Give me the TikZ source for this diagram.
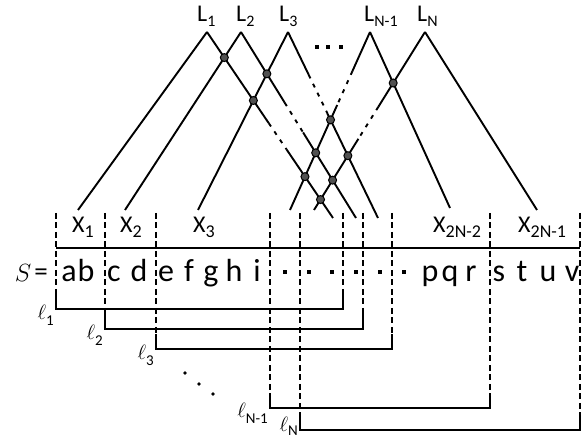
\documentclass[tikz,border=0pt]{standalone}
\usepackage{fontspec}
\setmainfont{Carlito}
\usetikzlibrary{calc}
\definecolor{dotGray}{HTML}{505050}
\newcommand{\lowidx}[3]{\raisebox{-#2pt}{\fontsize{#1}{#1}\selectfont #3}}
\tikzset{
  leg line/.style={draw=black,line width=1.9pt,line join=miter},
  gap line/.style={draw=black,line width=1.9pt,dash pattern=on 4pt off 6pt},
  cross dot/.style={circle,draw=black,fill=dotGray,line width=1pt,
    inner sep=0pt,minimum size=8pt},
  bound line/.style={draw=black,line width=1.9pt,dash pattern=on 6pt off 3.5pt},
  bracket line/.style={draw=black,line width=2.5pt},
  top label/.style={font=\fontsize{24}{26}\selectfont,anchor=base west,inner sep=0pt},
  part label/.style={font=\fontsize{24}{26}\selectfont,anchor=base west,inner sep=0pt},
  len label/.style={font=\fontsize{22}{24}\selectfont,anchor=base east,inner sep=0pt},
  letter node/.style={font=\fontsize{32}{34}\selectfont,anchor=base,inner sep=0pt},
  gap dot/.style={fill=black,minimum size=4.5pt,inner sep=0pt}
}

\begin{document}
\begin{tikzpicture}[x=1pt,y=-1pt]
  \useasboundingbox (0,0) rectangle (587,443);

  % apexes and feet of the legs
  \coordinate (a1) at (207,32);
  \coordinate (a2) at (241,32);
  \coordinate (a3) at (288,32);
  \coordinate (am) at (370,32);
  \coordinate (an) at (425,32);
  \coordinate (l1) at (78,210);
  \coordinate (l2) at (125,210);
  \coordinate (l3) at (198,210);
  \coordinate (lm) at (290,210);
  \coordinate (ln) at (314,210);
  \coordinate (r1) at (333,218);
  \coordinate (r2) at (356,218);
  \coordinate (r3) at (378,218);
  \coordinate (rm) at (450,208);
  \coordinate (rn) at (537,210);

  \node[top label] (L1) at ($(a1)+(-10,-10)$) {L\lowidx{16}{5}{1}};
  \node[top label] (L2) at ($(a2)+(-5,-10)$) {L\lowidx{16}{5}{2}};
  \node[top label] (L3) at ($(a3)+(-9,-10)$) {L\lowidx{16}{5}{3}};
  \node[top label] (Lm) at ($(am)+(-6,-10)$) {L\lowidx{16}{5}{N-1}};
  \node[top label] (Ln) at ($(an)+(-8,-10)$) {L\lowidx{16}{5}{N}};
  \foreach \dx [count=\k] in {317,328,341}
    \node[gap dot,minimum size=4pt] (td\k) at (\dx,47) {};

  % solid legs
  \draw[leg line] (l1) -- (a1);
  \draw[leg line] (l2) -- (a2);
  \draw[leg line] (l3) -- (a3);
  \draw[leg line] (am) -- (rm);
  \draw[leg line] (an) -- (rn);
  % legs broken by a gap
  \foreach \ap/\ft/\ta/\tb in {a1/r1/0.49/0.63,a2/r2/0.38/0.54,a3/r3/0.23/0.44,
                               am/lm/0.22/0.41,an/ln/0.42/0.60}{
    \draw[leg line] (\ap) -- ($(\ap)!\ta!(\ft)$);
    \draw[gap line] ($(\ap)!\ta!(\ft)$) -- ($(\ap)!\tb!(\ft)$);
    \draw[leg line] ($(\ap)!\tb!(\ft)$) -- (\ft);
  }

  % crossings
  \node[cross dot] (x1) at (intersection of a1--r1 and a2--l2) {};
  \node[cross dot] (x2) at (intersection of a1--r1 and a3--l3) {};
  \node[cross dot] (x3) at (intersection of a2--r2 and a3--l3) {};
  \node[cross dot] (x4) at (intersection of a3--r3 and am--lm) {};
  \node[cross dot] (x5) at (intersection of a3--r3 and an--ln) {};
  \node[cross dot] (x6) at (intersection of a2--r2 and am--lm) {};
  \node[cross dot] (x7) at (intersection of a2--r2 and an--ln) {};
  \node[cross dot] (x8) at (intersection of a1--r1 and am--lm) {};
  \node[cross dot] (x9) at (intersection of a1--r1 and an--ln) {};
  \node[cross dot] (x10) at (intersection of am--rm and an--ln) {};

  % parts
  \node[part label] (X1) at (72,233) {X\lowidx{18}{5}{1}};
  \node[part label] (X2) at (120,233) {X\lowidx{18}{5}{2}};
  \node[part label] (X3) at (193,233) {X\lowidx{18}{5}{3}};
  \node[part label] (Xa) at (433,233) {X\lowidx{18}{5}{2N-2}};
  \node[part label] (Xb) at (518,233) {X\lowidx{18}{5}{2N-1}};

  % the string
  \coordinate (sl) at (56,248);
  \coordinate (sr) at (580,248);
  \draw[line width=1.9pt] (sl) -- (sr);
  \node[font=\fontsize{29}{31}\selectfont,anchor=base,inner sep=0pt] (S) at (23,282) {$S$};
  \node[font=\fontsize{27}{29}\selectfont,anchor=base,inner sep=0pt] (eq) at (41,281) {=};
  \foreach \ch/\cx [count=\i] in {a/69,b/86,c/114,d/139,e/166,f/189,g/211,h/234,i/257,
                                  p/430,q/450,r/471,s/499,t/522,u/548,v/572}
    \node[letter node] (ch\i) at (\cx,282) {\ch};
  \foreach \dx [count=\k] in {285,309,332,356,380,404}
    \node[gap dot] (sd\k) at (\dx,272) {};

  % boundaries and lengths
  \foreach \lx/\rx/\by/\nm/\sb/\ly/\sy in {56/343/309/1/1/11/6,105/363/329/2/2/11/6,
      156/392/349/3/3/11/6,270/490/408/m/N-1/10/6,300/580/430/n/N/2/4}{
    \coordinate (tl\nm) at (\lx,213);
    \coordinate (bl\nm) at (\lx,\by);
    \coordinate (tr\nm) at (\rx,213);
    \coordinate (br\nm) at (\rx,\by);
    \draw[bound line] (tl\nm) -- (bl\nm);
    \draw[bound line] (tr\nm) -- (br\nm);
    \draw[bracket line] ($(bl\nm)+(0,-15)$) -- (bl\nm) -- (br\nm) -- ($(br\nm)+(0,-15)$);
    \node[len label] (len\nm) at ($(bl\nm)+(-2,\ly)$) {$\ell$\lowidx{15}{\sy}{\sb}};
  }
  \foreach \dx/\dy [count=\k] in {185/373,199/384,213/394}
    \fill (\dx,\dy) circle (1.9pt);
\end{tikzpicture}
\end{document}
